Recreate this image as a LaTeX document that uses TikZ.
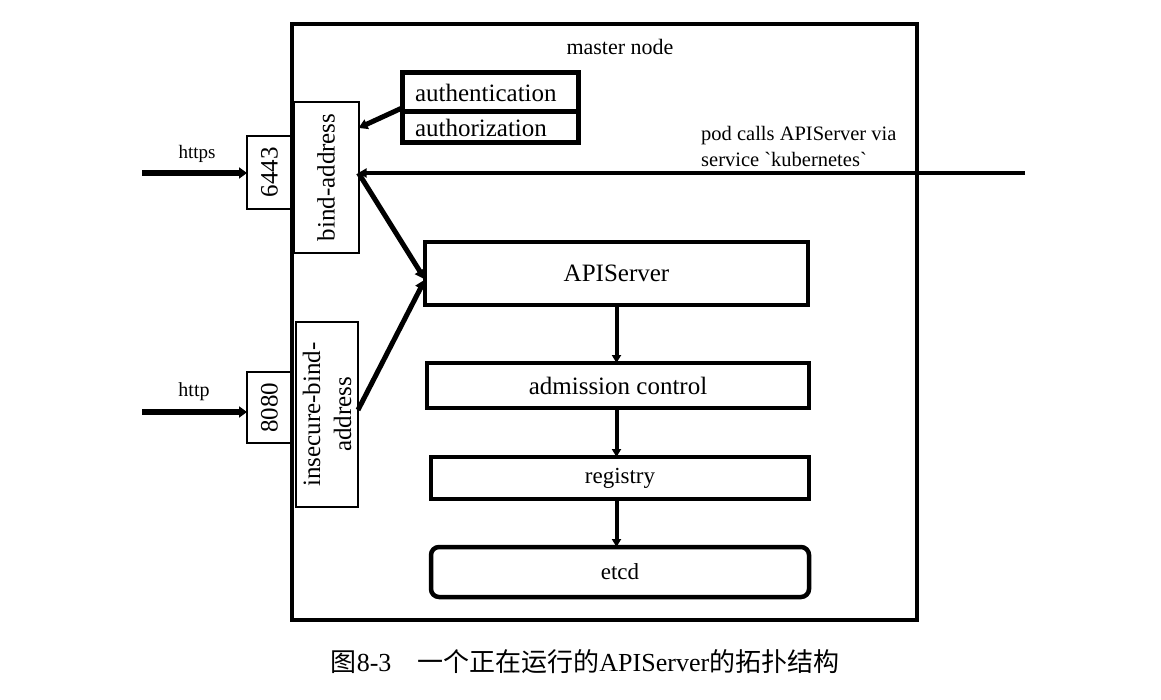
\documentclass[tikz,border=0pt]{standalone}
\usepackage{fontspec}
\setmainfont{Liberation Serif}
\newfontfamily\cjk{Noto Sans CJK SC}
\usetikzlibrary{arrows.meta,calc}
\tikzset{
  thinbox/.style={draw, line width=2pt, inner sep=0pt, outer sep=0pt},
  thickbox/.style={draw, line width=4.5pt, inner sep=0pt, outer sep=0pt},
  authbox/.style={draw, line width=5pt, inner sep=0pt, outer sep=0pt, minimum width=176pt, text width=150pt, align=left, font=\fontsize{25}{30}\selectfont},
  conn/.style={line width=5pt, -{Triangle[length=10pt,width=11pt]}},
  vconn/.style={line width=4pt, -{Triangle[length=8pt,width=9pt]}},
  inarrow/.style={line width=6pt, -{Triangle[length=8pt,width=11pt]}},
}
\begin{document}
\begin{tikzpicture}[x=1pt,y=-1pt]
\useasboundingbox (0,0) rectangle (1161,700);
% master node frame
\node[draw, line width=4.5pt, inner sep=0pt, minimum width=625pt, minimum height=596pt] (master) at (604.5,322) {};
\node[font=\fontsize{22}{26}\selectfont] (mtitle) at (620,47) {master node};
% ports
\node[thinbox, minimum width=45pt, minimum height=73pt] (p6443) at (269.5,172.5) {};
\node[rotate=90, font=\fontsize{25}{30}\selectfont] (t6443) at (p6443.center) {6443};
\node[thinbox, minimum width=65pt, minimum height=151pt] (bind) at (326,177.5) {};
\node[rotate=90, font=\fontsize{25}{30}\selectfont] (tbind) at (bind.center) {bind-address};
\node[thinbox, minimum width=45pt, minimum height=71pt] (p8080) at (269.5,407.5) {};
\node[rotate=90, font=\fontsize{25}{30}\selectfont] (t8080) at (p8080.center) {8080};
\node[thinbox, minimum width=62pt, minimum height=185pt] (insec) at (327,414.5) {};
\node[rotate=90, align=center, font=\fontsize{25}{31}\selectfont] (tinsec) at (insec.center) {insecure-bind-\\address};
% auth boxes
\node[authbox, minimum height=39pt] (authn) at (490,92.5) {authentication};
\node[authbox, minimum height=31pt] (authz) at (490,127.5) {authorization};
% pipeline
\node[thickbox, minimum width=383pt, minimum height=63pt, font=\fontsize{25}{30}\selectfont] (api) at (616.5,273.5) {APIServer};
\node[thickbox, minimum width=382pt, minimum height=45pt, font=\fontsize{25}{30}\selectfont] (adm) at (618,385.5) {admission control};
\node[thickbox, minimum width=378pt, minimum height=42pt, font=\fontsize{23}{28}\selectfont] (reg) at (620,478) {registry};
\node[thickbox, rounded corners=8pt, minimum width=378pt, minimum height=50pt, font=\fontsize{23}{28}\selectfont] (etcd) at (620,572) {etcd};
% labels
\node[font=\fontsize{19}{23}\selectfont] (lhttps) at (197,154) {https};
\node[font=\fontsize{20}{24}\selectfont] (lhttp) at (194,392) {http};
\node[font=\fontsize{20.5}{26}\selectfont, align=left, anchor=west, inner sep=0pt] (lpod) at (701,146) {pod calls APIServer via\\service \textasciigrave kubernetes\textasciigrave};
% external coordinates
\coordinate (ehttps) at (142,173);
\coordinate (ehttp) at (142,412);
\coordinate (epod) at (1025,173);
% connectors
\draw[inarrow] (ehttps) -- (p6443.west |- ehttps);
\draw[inarrow] (ehttp) -- (p8080.west |- ehttp);
\draw[line width=5pt, -{Triangle[length=9pt,width=10pt]}] ([yshift=4pt]authn.south west) -- ([yshift=49.5pt]bind.east);
\draw[line width=4pt, -{Triangle[length=8pt,width=9pt]}] (epod) -- ([yshift=4.5pt]bind.east);
\draw[conn] ([yshift=4.5pt]bind.east) -- ([yshift=-6pt]api.west);
\draw[conn] ([yshift=4.5pt]insec.east) -- ([yshift=-6pt]api.west);
\draw[vconn] (api.south) -- (api.south |- adm.north);
\draw[vconn] (api.south |- adm.south) -- (api.south |- reg.north);
\draw[vconn] (api.south |- reg.south) -- (api.south |- etcd.north);
% caption
\node[font=\fontsize{26}{30}\selectfont] (caption) at (585,662) {{\cjk 图}8-3\hspace{1em}{\cjk 一个正在运行的}APIServer{\cjk 的拓扑结构}};
\end{tikzpicture}
\end{document}
